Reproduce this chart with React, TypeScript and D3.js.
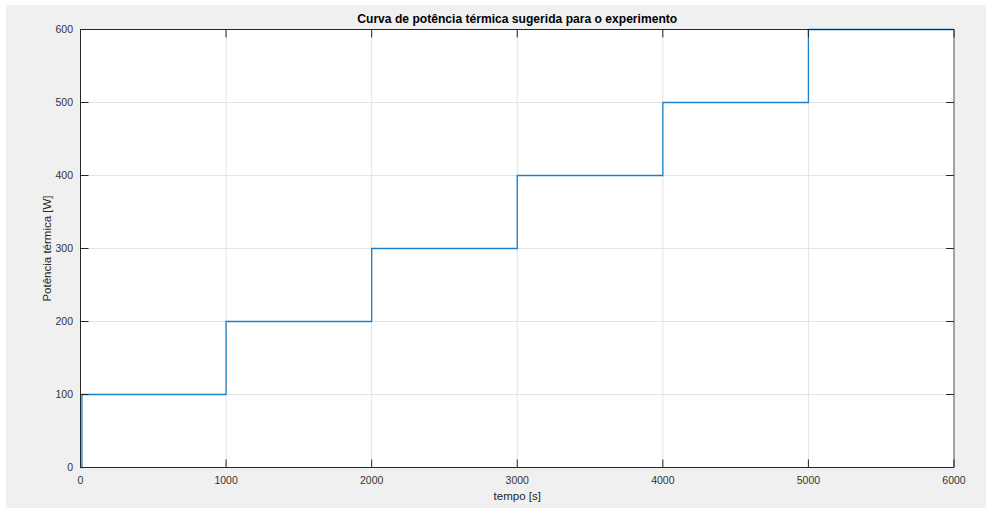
import React from "react";
import * as d3 from "d3";

const times = [0, 10, 10, 1000, 1000, 2000, 2000, 3000, 3000, 4000, 4000, 5000, 5000, 6000];
const powers = [0, 0, 100, 100, 200, 200, 300, 300, 400, 400, 500, 500, 600, 600];
const xTicks = [0, 1000, 2000, 3000, 4000, 5000, 6000];
const yTicks = [0, 100, 200, 300, 400, 500, 600];
const title = "Curva de potência térmica sugerida para o experimento";
const xLabel = "tempo [s]";
const yLabel = "Potência térmica [W]";

const W = 986, H = 508;
const L = 80.5, R = 954, T = 29.5, B = 467.5;
const font = "'Liberation Sans', Arial, Helvetica, sans-serif";

export default function App() {
  const x = d3.scaleLinear().domain([0, 6000]).range([L, R]);
  const y = d3.scaleLinear().domain([0, 600]).range([B, T]);
  const pts = times.map((t, i) => [t, powers[i]] as [number, number]);
  const line = d3.line<[number, number]>().x(d => x(d[0])).y(d => y(d[1]));
  const tl = 8;
  return (
    <svg width={W} height={H} style={{ position: "absolute", left: 0, top: 0 }} fontFamily={font}>
      <rect x={0} y={0} width={W} height={H} fill="#ffffff" />
      <rect x={6} y={5} width={W - 6} height={H - 5} fill="#f0f0f0" />
      <rect x={L} y={T} width={R - L} height={B - T} fill="#ffffff" />
      {xTicks.map(t => (
        <line key={"gx" + t} x1={x(t)} x2={x(t)} y1={T} y2={B} stroke="#e3e3e3" strokeWidth={1} />
      ))}
      {yTicks.map(t => (
        <line key={"gy" + t} x1={L} x2={R} y1={y(t)} y2={y(t)} stroke="#e3e3e3" strokeWidth={1} />
      ))}
      <path d={line(pts) || ""} fill="none" stroke="#1f7fc4" strokeWidth={1.3} />
      <line x1={L} x2={R} y1={T} y2={T} stroke="#262626" strokeWidth={1} />
      <line x1={L} x2={R} y1={B} y2={B} stroke="#262626" strokeWidth={1} />
      <line x1={L} x2={L} y1={T} y2={B} stroke="#262626" strokeWidth={1} />
      <line x1={R} x2={R} y1={T} y2={B} stroke="#8a8a8a" strokeWidth={1.5} />
      {xTicks.map(t => (
        <g key={"tx" + t}>
          <line x1={x(t)} x2={x(t)} y1={B} y2={B - tl} stroke="#262626" strokeWidth={1} />
          <line x1={x(t)} x2={x(t)} y1={T} y2={T + tl} stroke="#262626" strokeWidth={1} />
          <text x={x(t)} y={484} textAnchor="middle" fontSize={10.5} fill="#333">{t}</text>
        </g>
      ))}
      {yTicks.map(t => (
        <g key={"ty" + t}>
          <line x1={L} x2={L + tl} y1={y(t)} y2={y(t)} stroke="#262626" strokeWidth={1} />
          <line x1={R} x2={R - tl} y1={y(t)} y2={y(t)} stroke="#262626" strokeWidth={1} />
          <text x={73} y={y(t) + 3.8} textAnchor="end" fontSize={10.5} fill="#333">{t}</text>
        </g>
      ))}
      <text x={(L + R) / 2} y={23} textAnchor="middle" fontSize={12.1} fontWeight="bold" fill="#000">{title}</text>
      <text x={(L + R) / 2} y={500} textAnchor="middle" fontSize={11.5} fill="#262626">{xLabel}</text>
      <text transform={`translate(51, ${(T + B) / 2}) rotate(-90)`} textAnchor="middle" fontSize={11.5} fill="#262626">{yLabel}</text>
    </svg>
  );
}
